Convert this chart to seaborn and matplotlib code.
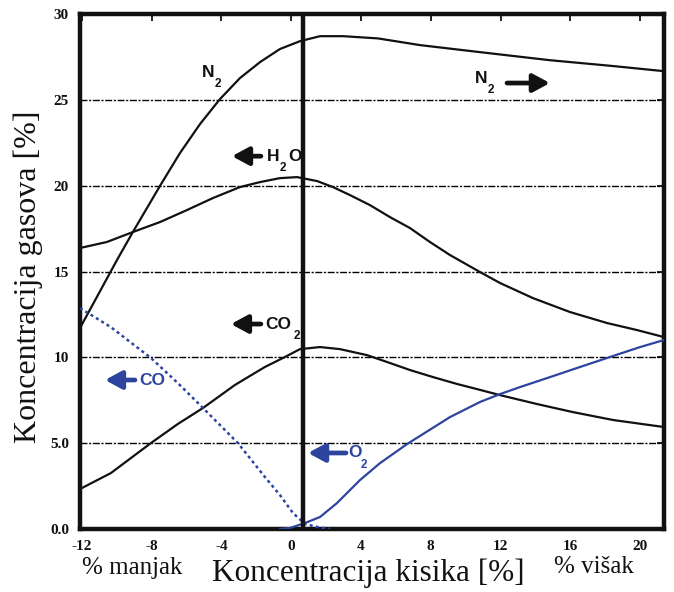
import matplotlib
matplotlib.use("Agg")
import matplotlib.pyplot as plt
import seaborn as sns

# values
n2_x = [-12.11, -9.99, -9.08, -7.53, -6.38, -5.23, -4.09, -2.94, -1.79, -0.65, 0.50, 1.65,
        2.97, 4.97, 7.38, 10.82, 14.83, 18.45, 21.37]
n2_y = [11.71, 15.67, 17.30, 19.98, 21.90, 23.59, 25.04, 26.27, 27.20, 27.96, 28.42, 28.71,
        28.71, 28.58, 28.19, 27.78, 27.31, 26.97, 26.67]

h2o_x = [-12.11, -10.57, -9.08, -7.53, -5.98, -4.49, -2.94, -1.79, -0.65, 0.33, 1.48, 2.39,
         3.37, 4.51, 5.66, 6.81, 7.95, 9.10, 10.82, 11.97, 13.86, 15.98, 18.10, 19.82, 21.37]
h2o_y = [16.37, 16.72, 17.30, 17.88, 18.58, 19.28, 19.92, 20.21, 20.44, 20.50, 20.27, 19.92,
         19.45, 18.87, 18.17, 17.53, 16.72, 15.96, 14.97, 14.33, 13.45, 12.64, 12.00, 11.59, 11.18]

co2_x = [-12.11, -10.34, -8.04, -6.50, -5.06, -3.23, -1.51, -0.36, 0.50, 1.65, 2.79, 4.34,
         5.49, 6.81, 8.13, 9.50, 10.65, 11.97, 14.09, 16.15, 18.45, 21.37]
co2_y = [2.33, 3.26, 5.01, 6.12, 7.05, 8.39, 9.44, 10.02, 10.48, 10.60, 10.48, 10.13,
         9.73, 9.26, 8.85, 8.45, 8.15, 7.80, 7.28, 6.81, 6.35, 5.94]

o2_x = [-0.65, -0.07, 0.79, 1.65, 2.62, 3.94, 5.09, 6.64, 9.10, 10.82, 11.97, 13.12, 14.66,
        16.56, 18.45, 20.00, 21.37]
o2_y = [0.00, 0.06, 0.35, 0.70, 1.51, 2.85, 3.84, 4.95, 6.52, 7.40, 7.86, 8.27, 8.79,
        9.44, 10.08, 10.60, 11.01]

co_x = [-12.11, -10.34, -8.04, -6.50, -5.06, -3.06, -1.51, -0.65, 0.10, 0.79, 1.47, 2.22]
co_y = [12.87, 11.76, 9.96, 8.50, 7.05, 5.01, 3.03, 1.98, 0.93, 0.29, 0.12, 0.00]

stoich_x = 0.67
grid_y = [5, 10, 15, 20, 25]
x_ticks = [-12, -8, -4, 0, 4, 8, 12, 16, 20]
x_tick_labels = ["-12", "-8", "-4", "0", "4", "8", "12", "16", "20"]
y_ticks = [0, 5, 10, 15, 20, 25, 30]
y_tick_labels = ["0.0", "5.0", "10", "15", "20", "25", "30"]

BLUE = "#2d449f"
BLACK = "#111111"

sns.set_style("white")
plt.rcParams["font.family"] = ["Liberation Serif", "DejaVu Serif"]

fig = plt.figure(figsize=(6.74, 5.92), dpi=100)
ax = fig.add_axes([0.1187, 0.1064, 0.8665, 0.8699])

for gy in grid_y:
    ax.axhline(gy, color="black", lw=1.0, ls=(0, (5, 1.2, 1.5, 1.2)), zorder=1)

line_kw = dict(ax=ax, lw=1.6, sort=False, estimator=None, zorder=3)
sns.lineplot(x=n2_x, y=n2_y, color=BLACK, **line_kw)
sns.lineplot(x=h2o_x, y=h2o_y, color=BLACK, **line_kw)
sns.lineplot(x=co2_x, y=co2_y, color=BLACK, **line_kw)
sns.lineplot(x=o2_x, y=o2_y, color=BLUE, **line_kw)
sns.lineplot(x=co_x, y=co_y, ax=ax, color=BLUE, lw=1.8, sort=False, estimator=None,
             linestyle=(0, (1.2, 1.3)), zorder=3)

ax.axvline(stoich_x, color=BLACK, lw=3.2, zorder=4)

ax.set_xlim(-12.11, 21.37)
ax.set_ylim(0, 30)
ax.set_xticks(x_ticks)
ax.set_xticklabels(x_tick_labels)
ax.set_yticks(y_ticks)
ax.set_yticklabels(y_tick_labels)
ax.tick_params(direction="in", length=5, width=1.3, top=True, right=True, labelsize=11,
               colors=BLACK)
ax.tick_params(axis="x", pad=8)
ax.tick_params(axis="y", pad=8)
for lab in ax.get_xticklabels() + ax.get_yticklabels():
    lab.set_fontweight("bold")

for sp in ax.spines.values():
    sp.set_linewidth(3.2)
    sp.set_color(BLACK)
    sp.set_visible(True)

ax.set_xlabel("Koncentracija kisika [%]", fontsize=22.5, color=BLACK)
ax.xaxis.set_label_coords(0.493, -0.0855)
ax.xaxis.label.set_va("center")
ax.set_ylabel("Koncentracija gasova [%]", fontsize=23, color=BLACK)
ax.yaxis.set_label_coords(-0.089, 0.489)
ax.yaxis.label.set_va("center")

fig.text(0.196, 0.040, "% manjak", fontsize=18, ha="center", va="center", color=BLACK)
fig.text(0.881, 0.043, "% višak", fontsize=18, ha="center", va="center", color=BLACK)

sans = ["Liberation Sans", "DejaVu Sans"]


def chem(x, y, main, sub, color, tail=None, tail_x=None):
    ax.text(x, y, main, fontsize=12.5, fontweight="bold", family=sans, color=color,
            ha="left", va="center", zorder=5)
    ax.text(x + (0.75 if len(main) == 1 else 1.64), y - 0.7, sub, fontsize=8.5,
            fontweight="bold", family=sans, color=color, ha="left", va="center", zorder=5)
    if tail is not None:
        ax.text(tail_x, y, tail, fontsize=12.5, fontweight="bold", family=sans, color=color,
                ha="left", va="center", zorder=5)


def arrow(x_from, x_to, y, color):
    ax.annotate("", xy=(x_to, y), xytext=(x_from, y),
                arrowprops=dict(arrowstyle="-|>,head_length=0.5,head_width=0.27",
                                lw=3.4, color=color, shrinkA=0, shrinkB=0,
                                mutation_scale=20), zorder=5)


chem(-5.12, 26.62, "N", "2", BLACK)
chem(-1.39, 21.72, "H", "2", BLACK, tail="O", tail_x=-0.18)
arrow(-1.74, -3.40, 21.72, BLACK)
chem(10.53, 26.27, "N", "2", BLACK)
arrow(12.37, 14.83, 25.98, BLACK)
chem(-1.51, 11.94, "CO", "2", BLACK)
arrow(-1.74, -3.46, 11.94, BLACK)
ax.text(-8.73, 8.68, "CO", fontsize=12.5, fontweight="bold", family=sans, color=BLUE,
        ha="left", va="center", zorder=5)
arrow(-8.96, -10.68, 8.68, BLUE)
chem(3.25, 4.43, "O", "2", BLUE)
arrow(3.14, 0.96, 4.43, BLUE)

fig.savefig("out.png", dpi=100)
